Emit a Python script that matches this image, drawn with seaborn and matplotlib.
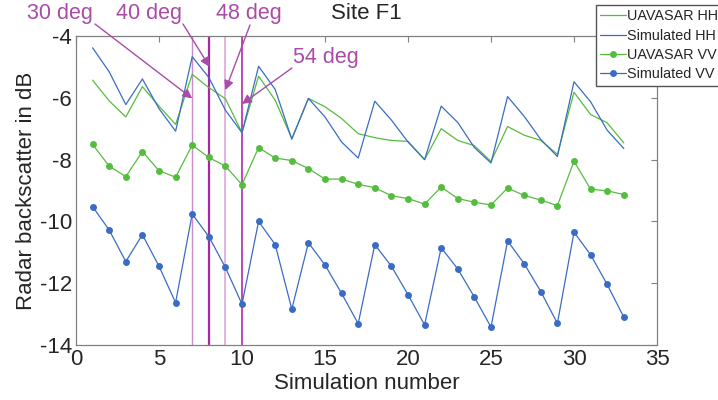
import numpy as np
import pandas as pd
import matplotlib
matplotlib.use("Agg")
import matplotlib.pyplot as plt
import seaborn as sns

# Valores (dB)
sim_number = list(range(1, 34))
uavsar_hh = [-5.43, -6.10, -6.62, -5.64, -6.27, -6.86, -5.24, -5.67, -6.03, -7.13,
             -5.30, -6.08, -7.32, -6.02, -6.29, -6.67, -7.16, -7.29, -7.38, -7.41,
             -8.00, -7.00, -7.38, -7.55, -8.06, -6.93, -7.21, -7.38, -7.83, -5.82,
             -6.54, -6.81, -7.46]
simulated_hh = [-4.38, -5.16, -6.22, -5.39, -6.35, -7.08, -4.67, -5.34, -6.40, -7.13,
                -4.98, -5.73, -7.34, -6.02, -6.62, -7.43, -7.95, -6.11, -6.72, -7.43,
                -8.00, -6.27, -6.80, -7.61, -8.11, -5.96, -6.60, -7.35, -7.90, -5.48,
                -6.13, -7.05, -7.64]
uavsar_vv = [-7.51, -8.21, -8.55, -7.74, -8.36, -8.57, -7.53, -7.93, -8.21, -8.81,
             -7.61, -7.95, -8.03, -8.29, -8.63, -8.63, -8.80, -8.91, -9.17, -9.26,
             -9.44, -8.89, -9.26, -9.38, -9.47, -8.92, -9.16, -9.31, -9.49, -8.05,
             -8.96, -9.01, -9.13]
simulated_vv = [-9.52, -10.28, -11.30, -10.43, -11.45, -12.63, -9.76, -10.49, -11.49, -12.68,
                -10.00, -10.75, -12.84, -10.69, -11.41, -12.33, -13.31, -10.75, -11.45, -12.37,
                -13.35, -10.85, -11.54, -12.45, -13.42, -10.63, -11.37, -12.27, -13.30, -10.35,
                -11.08, -12.04, -13.10]

# Lineas verticales y anotaciones de angulo
angle_sims = [7, 8, 9, 10]
angle_labels = ['30 deg', '40 deg', '48 deg', '54 deg']

df = pd.DataFrame({
    'sim': sim_number,
    'UAVASAR HH': uavsar_hh,
    'Simulated HH': simulated_hh,
    'UAVASAR VV': uavsar_vv,
    'Simulated VV': simulated_vv,
})

sns.set_style('white')
plt.rcParams['font.family'] = ['Liberation Sans', 'DejaVu Sans']
plt.rcParams['axes.unicode_minus'] = False

verde = '#55bd3e'
azul = '#3b6cc4'
morado = '#a94ca8'

fig = plt.figure(figsize=(7.18, 4.0), dpi=100)
ax = fig.add_axes([76 / 718, 1 - 345 / 400, (657 - 76) / 718, (345 - 36) / 400])

# lineas verticales
vcolors = ['#c98bcb', '#a42aa4', '#e3b3e3', '#b53bb5']
vwidths = [1.0, 1.6, 1.4, 1.3]
for xs, c, w in zip(angle_sims, vcolors, vwidths):
    ax.axvline(xs, color=c, lw=w, zorder=1)

sns.lineplot(data=df, x='sim', y='UAVASAR HH', ax=ax, color=verde, lw=0.9,
             label='UAVASAR HH', legend=False)
sns.lineplot(data=df, x='sim', y='Simulated HH', ax=ax, color=azul, lw=0.9,
             label='Simulated HH', legend=False)
sns.lineplot(data=df, x='sim', y='UAVASAR VV', ax=ax, color=verde, lw=0.9,
             marker='o', markersize=5, markeredgewidth=0, label='UAVASAR VV', legend=False)
sns.lineplot(data=df, x='sim', y='Simulated VV', ax=ax, color=azul, lw=0.9,
             marker='o', markersize=5, markeredgewidth=0, label='Simulated VV', legend=False)

ax.set_xlim(0, 35)
ax.set_ylim(-14, -4)
ax.set_xticks(np.arange(0, 36, 5))
ax.set_yticks(np.arange(-14, -3, 2))
ax.tick_params(direction='in', top=True, right=True, length=4, width=0.8,
               color='#808080', labelsize=16, pad=3)
for s in ax.spines.values():
    s.set_color('#808080')
    s.set_linewidth(0.9)

ax.set_xlabel('Simulation number', fontsize=16, labelpad=2)
ax.set_ylabel('Radar backscatter in dB', fontsize=16, labelpad=2)
ax.set_title('Site F1', fontsize=16, pad=12)

# anotaciones (posiciones del texto en fraccion de figura)
text_pos = [(60 / 718, 1 - 13 / 400), (149 / 718, 1 - 13 / 400),
            (249 / 718, 1 - 13 / 400), (326 / 718, 1 - 57 / 400)]
tip_y = [-6.02, -5.0, -5.75, -6.2]
tip_x = [7.0, 8.05, 9.0, 10.0]
tail_pts = [(95 / 718, 1 - 24 / 400), (183 / 718, 1 - 24 / 400),
            (250 / 718, 1 - 25 / 400), (292 / 718, 1 - 68 / 400)]
for lab, tp, tx, ty, tl in zip(angle_labels, text_pos, tip_x, tip_y, tail_pts):
    fig.text(tp[0], tp[1], lab, color=morado, fontsize=15.5, ha='center', va='center')
    ax.annotate('', xy=(tx, ty), xycoords='data', xytext=tl, textcoords='figure fraction',
                arrowprops=dict(arrowstyle='-|>', color=morado, lw=1.0,
                                mutation_scale=14, shrinkA=0, shrinkB=0),
                annotation_clip=False)

fig.legend(loc='upper left', bbox_to_anchor=(596 / 718, 1 - 5 / 400), fontsize=10.4,
           frameon=True, fancybox=False, edgecolor='#555555', framealpha=1,
           borderpad=0.3, labelspacing=0.37, handlelength=1.75, handletextpad=0.12,
           borderaxespad=0)

fig.savefig('out.png', dpi=100)
